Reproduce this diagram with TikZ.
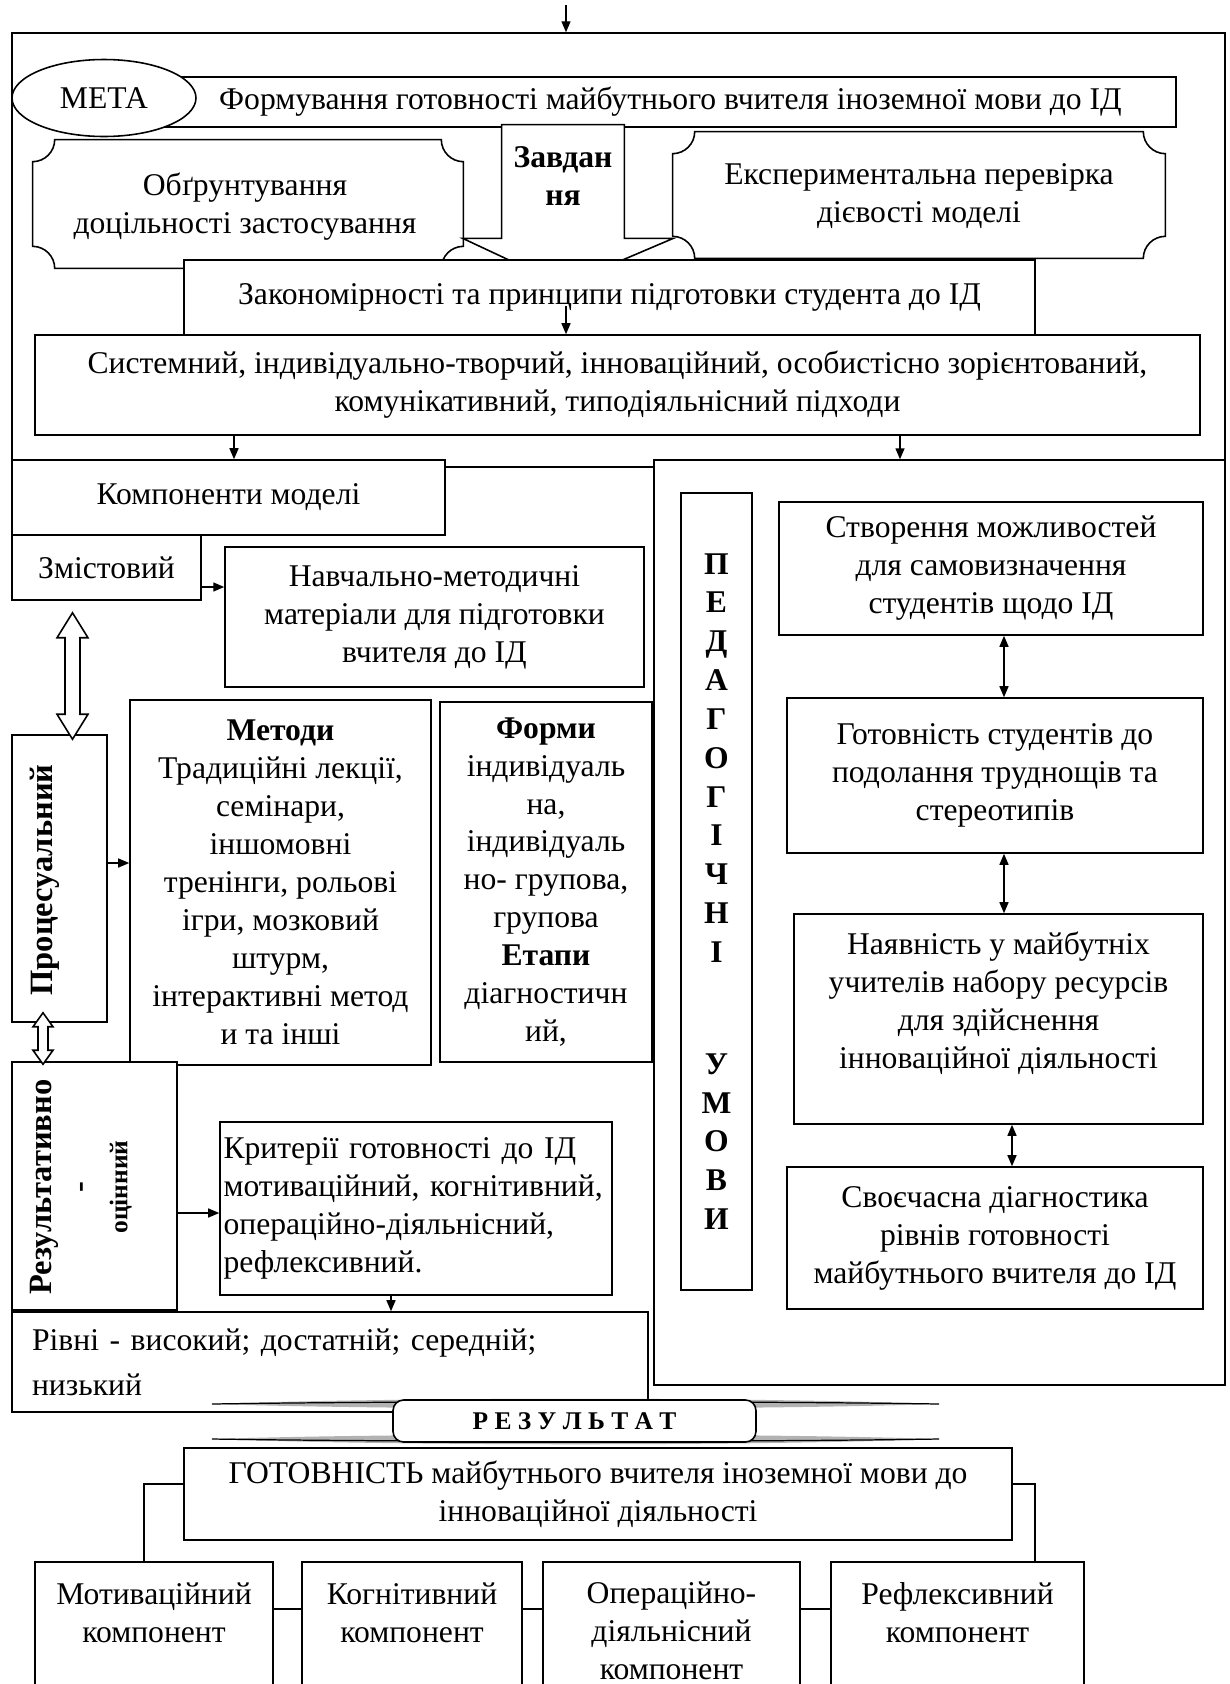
\documentclass[tikz,border=0pt]{standalone}
\usepackage{fontspec}
\setmainfont{Liberation Serif}
\usetikzlibrary{arrows.meta, calc, shapes.geometric}

% plaque outline (concave corners) round a named node
\newcommand\plaque[2]{%
  \draw[lin, fill=white] ($(#1.north west)+(#2,0)$) -- ($(#1.north east)+(-#2,0)$)
    .. controls +(0,0.55*#2) and +(-0.55*#2,0) .. ($(#1.north east)+(0,#2)$)
    -- ($(#1.south east)+(0,-#2)$)
    .. controls +(-0.55*#2,0) and +(0,-0.55*#2) .. ($(#1.south east)+(-#2,0)$)
    -- ($(#1.south west)+(#2,0)$)
    .. controls +(0,-0.55*#2) and +(0.55*#2,0) .. ($(#1.south west)+(0,-#2)$)
    -- ($(#1.north west)+(0,#2)$)
    .. controls +(0.55*#2,0) and +(0,0.55*#2) .. cycle;}

% hollow up-down arrow between two points
\newcommand\hollowpair[5]{%
  \draw[lin, fill=white] let \p1=#1, \p2=#2 in
    (\x1,\y1) -- (\x1+#3,\y1-#5) -- (\x1+#4,\y1-#5) -- (\x1+#4,\y2+#5) -- (\x1+#3,\y2+#5)
    -- (\x1,\y2) -- (\x1-#3,\y2+#5) -- (\x1-#4,\y2+#5) -- (\x1-#4,\y1-#5) -- (\x1-#3,\y1-#5) -- cycle;}

\begin{document}
\frenchspacing
\begin{tikzpicture}[
  x=0.02cm, y=-0.02cm,
  font=\fontsize{18}{21.6}\selectfont,
  box/.style={rectangle, draw, line width=0.9pt, fill=white, align=center, inner sep=2pt},
  txt/.style={align=center, inner sep=0pt},
  vlbl/.style={rotate=90, align=center, inner sep=0pt, font=\fontsize{18.5}{21.6}\selectfont\bfseries},
  arr/.style={-{Triangle[length=2.2mm, width=1.8mm]}, line width=0.8pt},
  dbl/.style={{Triangle[length=2.2mm, width=1.8mm]}-{Triangle[length=2.2mm, width=1.8mm]}, line width=0.8pt},
  lin/.style={line width=0.9pt},
]
\useasboundingbox (0,0) rectangle (1230,1684);
\clip (0,0) rectangle (1230,1684);

% --- Верхня рамка: мета і завдання ---
\node[box, fill=none, minimum width=24.26cm, minimum height=8.68cm] (frame) at (618.5,250) {};
\coordinate (entry) at (566,5);
\draw[arr] (entry) -- (entry |- frame.north);

\node[box, minimum width=20.22cm, minimum height=1cm] (meta) at (670.5,102) {Формування готовності майбутнього вчителя іноземної мови до ІД};
\node[box, ellipse, minimum width=3.68cm, minimum height=1.54cm] (mt) at (104,98) {МЕТА};

\node[txt, minimum width=8.6cm, minimum height=2.56cm] (obg) at (248,204) {};
\plaque{obg}{22}
\node[txt] (obgt) at (245,207) {Обґрунтування\\доцільності застосування};
\node[txt, minimum width=9.84cm, minimum height=2.52cm] (exper) at (919,195) {};
\plaque{exper}{22}
\node[txt] (expert) at (919,196) {Експериментальна перевірка\\дієвості моделі};

\node[txt, minimum width=2.44cm, minimum height=2.26cm] (zavd) at (563,181.5) {};
\draw[lin, fill=white] (zavd.north west) -- (zavd.north east) -- (zavd.south east)
  -- ($(zavd.south east)+(49,0)$) -- ($(zavd.south)+(0,47)$) -- ($(zavd.south west)+(-39,0)$)
  -- (zavd.south west) -- cycle;
\node[txt, font=\fontsize{18}{21.6}\selectfont\bfseries] (zavdt) at (563,176) {Завдан\\ня};

% --- Закономірності і підходи ---
\node[box, minimum width=17.02cm, minimum height=1.5cm] (zak) at (609.5,297.5) {Закономірності та принципи підготовки студента до ІД};
\node[box, minimum width=23.3cm, minimum height=2cm] (sys) at (617.5,385) {Системний, індивідуально-творчий, інноваційний, особистісно зорієнтований,\\комунікативний, типодіяльнісний підходи};
\coordinate (zs) at ([xshift=-0.87cm, yshift=0.6cm]zak.south);
\draw[arr] (zs) -- (zs |- sys.north);

% --- Компоненти моделі (ліворуч) ---
\node[box, minimum width=8.66cm, minimum height=1.5cm] (komp) at (228.5,497.5) {Компоненти моделі};
\node[box, minimum width=11.42cm, minimum height=18.5cm] (umovy) at (939.5,922.5) {};
\coordinate (sl) at ([xshift=0.11cm]komp.north);
\draw[arr] (sl |- sys.south) -- (sl);
\coordinate (sr) at ([xshift=-0.79cm]umovy.north);
\draw[arr] (sr |- sys.south) -- (sr);

\node[box, minimum width=3.78cm, minimum height=1.3cm] (zmist) at (106.5,567.5) {Змістовий};
\node[box, minimum width=8.38cm, minimum height=2.8cm] (navch) at (434.5,617) {Навчально-методичні\\матеріали для підготовки\\вчителя до ІД};
\coordinate (za) at ([yshift=-0.39cm]zmist.east);
\draw[arr] (za) -- (za -| navch.west);

\node[box, minimum width=1.9cm, minimum height=5.74cm] (proc) at (59.5,878.5) {};
\node[vlbl] (proclbl) at (45,880) {Процесуальний};
\node[box, minimum width=6.02cm, minimum height=7.3cm] (metod) at (280.5,882.5) {\textbf{Методи}\\Традиційні лекції,\\семінари,\\іншомовні\\тренінги, рольові\\ігри, мозковий\\штурм,\\інтерактивні метод\\и та інші};
\node[box, minimum width=4.24cm, minimum height=7.2cm] (form) at (546,882) {\textbf{Форми}\\індивідуаль\\на,\\індивідуаль\\но- групова,\\групова\\\textbf{Етапи}\\діагностичн\\ий,};
\coordinate (pa) at ([yshift=0.31cm]proc.east);
\draw[arr] (pa) -- (pa -| metod.west);
\hollowpair{($(zmist.south)+(-34,12)$)}{($(proc.north)+(12,5)$)}{0.31cm}{0.15cm}{0.5cm}

\node[box, minimum width=3.3cm, minimum height=4.96cm] (rez) at (94.5,1186) {};
\node[vlbl] (rezlbl) at (81,1187) {Результативно\\-\\{\fontsize{14.5}{16}\selectfont оцінний}};
\hollowpair{($(proc.south)+(-16.5,-10)$)}{($(rez.north)+(-51.5,3)$)}{0.2cm}{0.1cm}{0.28cm}
\node[box, align=left, text width=7.7cm, minimum height=3.46cm] (krit) at (416,1208.5) {\makebox[7.7cm][s]{Критерії готовності до ІД}\\\makebox[7.7cm][s]{мотиваційний, когнітивний,}\\операційно-діяльнісний,\\рефлексивний.};
\coordinate (ra) at ([yshift=-0.54cm]rez.east);
\draw[arr] (ra) -- (ra -| krit.west);
\node[box, align=left, text width=11.92cm, inner xsep=0.4cm, minimum height=2cm] (rivni) at (330,1362) {Рівні - високий; достатній; середній;\\[0.14cm]низький};
\coordinate (ka) at ([xshift=-0.5cm]krit.south);
\draw[arr] (ka) -- (ka |- rivni.north);

% --- Педагогічні умови (праворуч) ---
\node[box, minimum width=1.42cm, minimum height=15.94cm, font=\fontsize{18}{22.1}\selectfont\bfseries] (ped) at (716.5,891.5) {П\\Е\\Д\\А\\Г\\О\\Г\\І\\Ч\\Н\\І\\[1.46cm]У\\М\\О\\В\\И};
\node[box, minimum width=8.48cm, minimum height=2.66cm] (stvor) at (991,568.5) {Створення можливостей\\для самовизначення\\студентів щодо ІД};
\node[box, minimum width=8.32cm, minimum height=3.1cm] (gotov) at (995,775.5) {Готовність студентів до\\подолання труднощів та\\стереотипів};
\node[box, minimum width=8.18cm, minimum height=4.2cm] (nayav) at (998.5,1019) {Наявність у майбутніх\\учителів набору ресурсів\\для здійснення\\інноваційної діяльності\\~};
\node[box, minimum width=8.32cm, minimum height=2.84cm] (svoech) at (995,1238) {Своєчасна діагностика\\рівнів готовності\\майбутнього вчителя до ІД};
\coordinate (d1) at ([xshift=0.26cm]stvor.south);
\draw[dbl] (d1) -- (d1 |- gotov.north);
\coordinate (d2) at ([xshift=0.18cm]gotov.south);
\draw[dbl] (d2) -- (d2 |- nayav.north);
\coordinate (d3) at ([xshift=0.27cm]nayav.south);
\draw[dbl] (d3) -- (d3 |- svoech.north);

% --- Результат ---
\fill[gray!60] (212,1404) .. controls (400,1397) and (750,1397) .. (939,1404) .. controls (750,1410) and (400,1410) .. cycle;
\draw[line width=0.7pt] (212,1404) .. controls (400,1401) and (750,1401) .. (939,1404);
\fill[gray!60] (212,1439) .. controls (400,1433) and (750,1433) .. (939,1439) .. controls (750,1446) and (400,1446) .. cycle;
\draw[line width=0.7pt] (212,1439) .. controls (400,1442) and (750,1442) .. (939,1439);
\node[box, rounded corners=6pt, minimum width=7.26cm, minimum height=0.84cm, font=\fontsize{14.5}{16}\selectfont\bfseries] (rezlt) at (574.5,1421) {Р Е З У Л Ь Т А Т};

\node[box, minimum width=16.56cm, minimum height=1.84cm] (got) at (598,1494) {ГОТОВНІСТЬ майбутнього вчителя іноземної мови до\\інноваційної діяльності};

\node[box, minimum width=4.76cm, minimum height=3.56cm] (c1) at (154,1651) {};
\node[box, minimum width=4.4cm, minimum height=3.56cm] (c2) at (412,1651) {};
\node[box, minimum width=5.14cm, minimum height=3.56cm] (c3) at (671.5,1651) {};
\node[box, minimum width=5.06cm, minimum height=3.56cm] (c4) at (957.5,1651) {};
\node[txt] (c1t) at (154,1613) {Мотиваційний\\компонент};
\node[txt] (c2t) at (412,1613) {Когнітивний\\компонент};
\node[txt] (c3t) at (671.5,1631) {Операційно-\\діяльнісний\\компонент};
\node[txt] (c4t) at (957.5,1613) {Рефлексивний\\компонент};

\coordinate (gl) at ([yshift=0.2cm]got.west);
\draw[lin] (gl) -| ([xshift=-0.2cm]c1.north);
\coordinate (gr) at ([yshift=0.2cm]got.east);
\draw[lin] (gr) -| ([xshift=1.55cm]c4.north);
\foreach \a/\b in {c1/c2, c2/c3, c3/c4}
  \draw[lin] ([yshift=-0.96cm]\a.north east) -- ([yshift=-0.96cm]\b.north west);

\end{tikzpicture}
\end{document}
